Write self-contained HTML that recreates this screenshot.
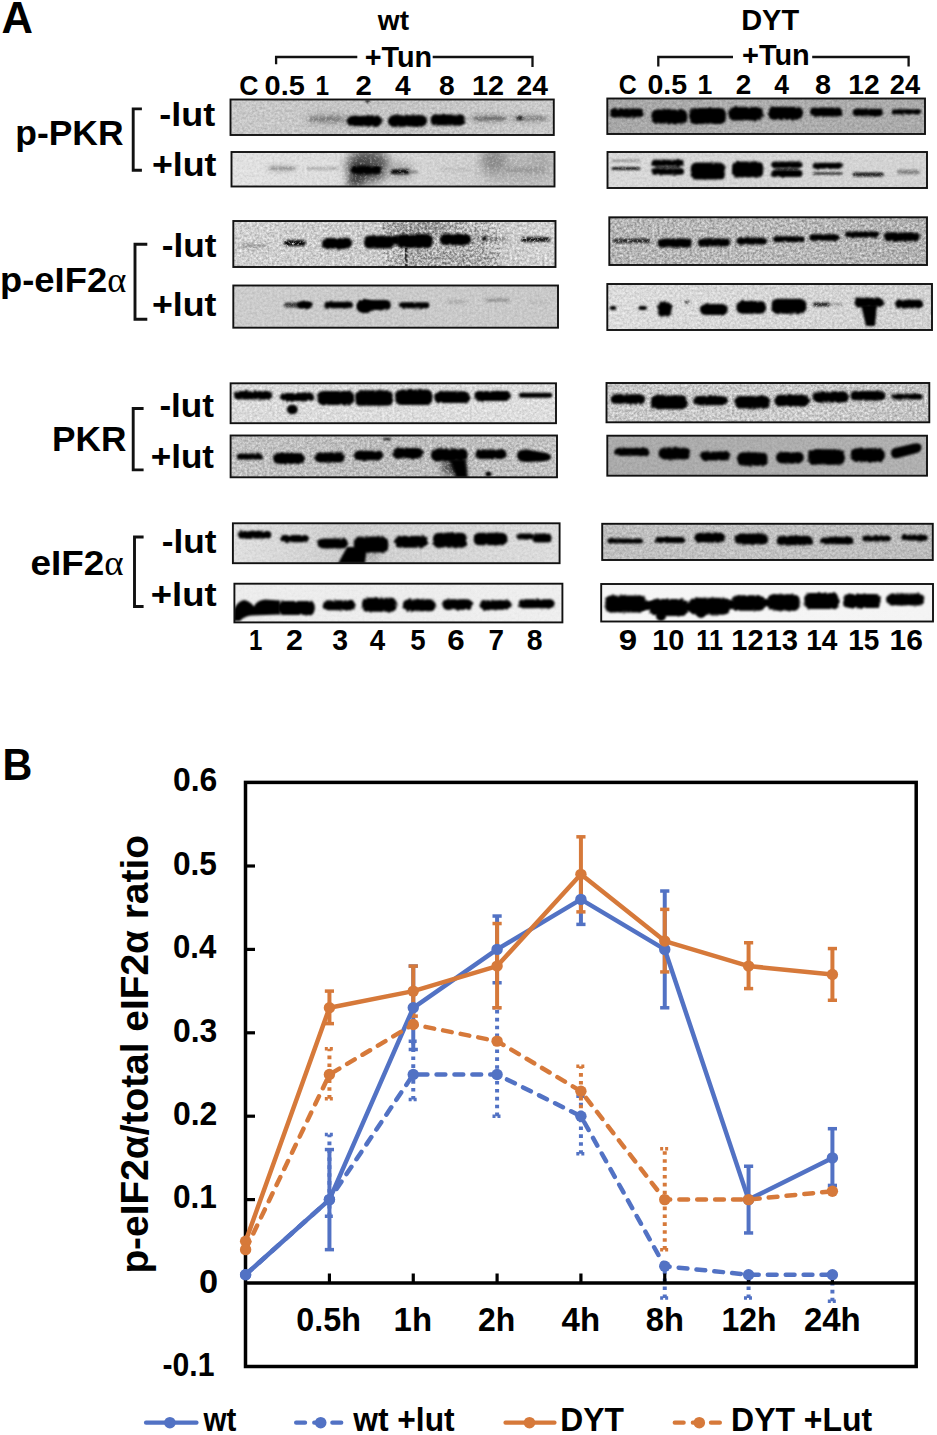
<!DOCTYPE html>
<html><head><meta charset="utf-8"><style>
html,body{margin:0;padding:0;background:#fff;}
body{width:937px;height:1435px;overflow:hidden;font-family:"Liberation Sans",sans-serif;}
svg{display:block;}
</style></head><body>
<svg width="937" height="1435" viewBox="0 0 937 1435">
<rect width="937" height="1435" fill="#fff"/>
<defs>
<filter id="b0_7" x="-50%" y="-100%" width="200%" height="300%"><feGaussianBlur stdDeviation="0.7"/></filter>
<filter id="rb0_7" x="-50%" y="-100%" width="200%" height="300%"><feTurbulence type="fractalNoise" baseFrequency="0.35" numOctaves="2" seed="7" result="n"/><feDisplacementMap in="SourceGraphic" in2="n" scale="3.2" xChannelSelector="R" yChannelSelector="G" result="d"/><feGaussianBlur in="d" stdDeviation="0.7"/></filter>
<filter id="b0_8" x="-50%" y="-100%" width="200%" height="300%"><feGaussianBlur stdDeviation="0.8"/></filter>
<filter id="rb0_8" x="-50%" y="-100%" width="200%" height="300%"><feTurbulence type="fractalNoise" baseFrequency="0.35" numOctaves="2" seed="7" result="n"/><feDisplacementMap in="SourceGraphic" in2="n" scale="3.2" xChannelSelector="R" yChannelSelector="G" result="d"/><feGaussianBlur in="d" stdDeviation="0.8"/></filter>
<filter id="b1" x="-50%" y="-100%" width="200%" height="300%"><feGaussianBlur stdDeviation="1"/></filter>
<filter id="rb1" x="-50%" y="-100%" width="200%" height="300%"><feTurbulence type="fractalNoise" baseFrequency="0.35" numOctaves="2" seed="7" result="n"/><feDisplacementMap in="SourceGraphic" in2="n" scale="3.2" xChannelSelector="R" yChannelSelector="G" result="d"/><feGaussianBlur in="d" stdDeviation="1"/></filter>
<filter id="b1_1" x="-50%" y="-100%" width="200%" height="300%"><feGaussianBlur stdDeviation="1.1"/></filter>
<filter id="rb1_1" x="-50%" y="-100%" width="200%" height="300%"><feTurbulence type="fractalNoise" baseFrequency="0.35" numOctaves="2" seed="7" result="n"/><feDisplacementMap in="SourceGraphic" in2="n" scale="3.2" xChannelSelector="R" yChannelSelector="G" result="d"/><feGaussianBlur in="d" stdDeviation="1.1"/></filter>
<filter id="b1_2" x="-50%" y="-100%" width="200%" height="300%"><feGaussianBlur stdDeviation="1.2"/></filter>
<filter id="rb1_2" x="-50%" y="-100%" width="200%" height="300%"><feTurbulence type="fractalNoise" baseFrequency="0.35" numOctaves="2" seed="7" result="n"/><feDisplacementMap in="SourceGraphic" in2="n" scale="3.2" xChannelSelector="R" yChannelSelector="G" result="d"/><feGaussianBlur in="d" stdDeviation="1.2"/></filter>
<filter id="b1_3" x="-50%" y="-100%" width="200%" height="300%"><feGaussianBlur stdDeviation="1.3"/></filter>
<filter id="rb1_3" x="-50%" y="-100%" width="200%" height="300%"><feTurbulence type="fractalNoise" baseFrequency="0.35" numOctaves="2" seed="7" result="n"/><feDisplacementMap in="SourceGraphic" in2="n" scale="3.2" xChannelSelector="R" yChannelSelector="G" result="d"/><feGaussianBlur in="d" stdDeviation="1.3"/></filter>
<filter id="b1_4" x="-50%" y="-100%" width="200%" height="300%"><feGaussianBlur stdDeviation="1.4"/></filter>
<filter id="rb1_4" x="-50%" y="-100%" width="200%" height="300%"><feTurbulence type="fractalNoise" baseFrequency="0.35" numOctaves="2" seed="7" result="n"/><feDisplacementMap in="SourceGraphic" in2="n" scale="3.2" xChannelSelector="R" yChannelSelector="G" result="d"/><feGaussianBlur in="d" stdDeviation="1.4"/></filter>
<filter id="b1_5" x="-50%" y="-100%" width="200%" height="300%"><feGaussianBlur stdDeviation="1.5"/></filter>
<filter id="rb1_5" x="-50%" y="-100%" width="200%" height="300%"><feTurbulence type="fractalNoise" baseFrequency="0.35" numOctaves="2" seed="7" result="n"/><feDisplacementMap in="SourceGraphic" in2="n" scale="3.2" xChannelSelector="R" yChannelSelector="G" result="d"/><feGaussianBlur in="d" stdDeviation="1.5"/></filter>
<filter id="b1_8" x="-50%" y="-100%" width="200%" height="300%"><feGaussianBlur stdDeviation="1.8"/></filter>
<filter id="rb1_8" x="-50%" y="-100%" width="200%" height="300%"><feTurbulence type="fractalNoise" baseFrequency="0.35" numOctaves="2" seed="7" result="n"/><feDisplacementMap in="SourceGraphic" in2="n" scale="3.2" xChannelSelector="R" yChannelSelector="G" result="d"/><feGaussianBlur in="d" stdDeviation="1.8"/></filter>
<filter id="b2" x="-50%" y="-100%" width="200%" height="300%"><feGaussianBlur stdDeviation="2"/></filter>
<filter id="rb2" x="-50%" y="-100%" width="200%" height="300%"><feTurbulence type="fractalNoise" baseFrequency="0.35" numOctaves="2" seed="7" result="n"/><feDisplacementMap in="SourceGraphic" in2="n" scale="3.2" xChannelSelector="R" yChannelSelector="G" result="d"/><feGaussianBlur in="d" stdDeviation="2"/></filter>
<filter id="b2_5" x="-50%" y="-100%" width="200%" height="300%"><feGaussianBlur stdDeviation="2.5"/></filter>
<filter id="rb2_5" x="-50%" y="-100%" width="200%" height="300%"><feTurbulence type="fractalNoise" baseFrequency="0.35" numOctaves="2" seed="7" result="n"/><feDisplacementMap in="SourceGraphic" in2="n" scale="3.2" xChannelSelector="R" yChannelSelector="G" result="d"/><feGaussianBlur in="d" stdDeviation="2.5"/></filter>
<filter id="b3" x="-50%" y="-100%" width="200%" height="300%"><feGaussianBlur stdDeviation="3"/></filter>
<filter id="rb3" x="-50%" y="-100%" width="200%" height="300%"><feTurbulence type="fractalNoise" baseFrequency="0.35" numOctaves="2" seed="7" result="n"/><feDisplacementMap in="SourceGraphic" in2="n" scale="3.2" xChannelSelector="R" yChannelSelector="G" result="d"/><feGaussianBlur in="d" stdDeviation="3"/></filter>
<filter id="b4" x="-50%" y="-100%" width="200%" height="300%"><feGaussianBlur stdDeviation="4"/></filter>
<filter id="rb4" x="-50%" y="-100%" width="200%" height="300%"><feTurbulence type="fractalNoise" baseFrequency="0.35" numOctaves="2" seed="7" result="n"/><feDisplacementMap in="SourceGraphic" in2="n" scale="3.2" xChannelSelector="R" yChannelSelector="G" result="d"/><feGaussianBlur in="d" stdDeviation="4"/></filter>
<filter id="b5" x="-50%" y="-100%" width="200%" height="300%"><feGaussianBlur stdDeviation="5"/></filter>
<filter id="rb5" x="-50%" y="-100%" width="200%" height="300%"><feTurbulence type="fractalNoise" baseFrequency="0.35" numOctaves="2" seed="7" result="n"/><feDisplacementMap in="SourceGraphic" in2="n" scale="3.2" xChannelSelector="R" yChannelSelector="G" result="d"/><feGaussianBlur in="d" stdDeviation="5"/></filter>
<filter id="b6" x="-50%" y="-100%" width="200%" height="300%"><feGaussianBlur stdDeviation="6"/></filter>
<filter id="rb6" x="-50%" y="-100%" width="200%" height="300%"><feTurbulence type="fractalNoise" baseFrequency="0.35" numOctaves="2" seed="7" result="n"/><feDisplacementMap in="SourceGraphic" in2="n" scale="3.2" xChannelSelector="R" yChannelSelector="G" result="d"/><feGaussianBlur in="d" stdDeviation="6"/></filter>
<filter id="nzd" x="0" y="0" width="1" height="1"><feTurbulence type="fractalNoise" baseFrequency="0.4" numOctaves="3" seed="11"/><feColorMatrix type="matrix" values="0 0 0 0 0  0 0 0 0 0  0 0 0 0 0  -2.5 0 0 0 1.25"/><feGaussianBlur stdDeviation="0.6"/></filter>
<filter id="nzl" x="0" y="0" width="1" height="1"><feTurbulence type="fractalNoise" baseFrequency="0.4" numOctaves="3" seed="11"/><feColorMatrix type="matrix" values="0 0 0 0 1  0 0 0 0 1  0 0 0 0 1  2.5 0 0 0 -1.25"/><feGaussianBlur stdDeviation="0.6"/></filter>
<clipPath id="c0"><rect x="230.5" y="99.5" width="323.3" height="35.5"/></clipPath>
<linearGradient id="g0" x1="0" y1="0" x2="1" y2="0"><stop offset="0" stop-color="#c9c9c9"/><stop offset="0.5" stop-color="#c4c4c4"/><stop offset="1" stop-color="#cacaca"/></linearGradient>
<clipPath id="c1"><rect x="231.5" y="152" width="323" height="34.5"/></clipPath>
<linearGradient id="g1" x1="0" y1="0" x2="1" y2="0"><stop offset="0" stop-color="#e2e2e2"/><stop offset="0.35" stop-color="#dcdcdc"/><stop offset="0.7" stop-color="#cfcfcf"/><stop offset="1" stop-color="#c4c4c4"/></linearGradient>
<clipPath id="c2"><rect x="607.3" y="98.5" width="317.7" height="35.5"/></clipPath>
<linearGradient id="g2" x1="0" y1="0" x2="1" y2="0"><stop offset="0" stop-color="#a6a6a6"/><stop offset="0.4" stop-color="#aeaeae"/><stop offset="1" stop-color="#aaaaaa"/></linearGradient>
<clipPath id="c3"><rect x="607.5" y="152" width="319.5" height="36"/></clipPath>
<linearGradient id="g3" x1="0" y1="0" x2="1" y2="0"><stop offset="0" stop-color="#d8d8d8"/><stop offset="1" stop-color="#d2d2d2"/></linearGradient>
<clipPath id="c4"><rect x="233.3" y="221" width="322.2" height="46"/></clipPath>
<linearGradient id="g4" x1="0" y1="0" x2="1" y2="0"><stop offset="0" stop-color="#d2d2d2"/><stop offset="0.4" stop-color="#cacaca"/><stop offset="0.75" stop-color="#c4c4c4"/><stop offset="1" stop-color="#d4d4d4"/></linearGradient>
<clipPath id="c5"><rect x="233.3" y="285.5" width="324.7" height="42.2"/></clipPath>
<linearGradient id="g5" x1="0" y1="0" x2="1" y2="0"><stop offset="0" stop-color="#cccccc"/><stop offset="1" stop-color="#c8c8c8"/></linearGradient>
<clipPath id="c6"><rect x="609.3" y="217.3" width="317.7" height="47.7"/></clipPath>
<linearGradient id="g6" x1="0" y1="0" x2="1" y2="0"><stop offset="0" stop-color="#b6b6b6"/><stop offset="0.5" stop-color="#bababa"/><stop offset="1" stop-color="#b0b0b0"/></linearGradient>
<clipPath id="c7"><rect x="607.3" y="284" width="324.7" height="46"/></clipPath>
<linearGradient id="g7" x1="0" y1="0" x2="1" y2="0"><stop offset="0" stop-color="#dcdcdc"/><stop offset="1" stop-color="#d0d0d0"/></linearGradient>
<clipPath id="c8"><rect x="230.6" y="383.3" width="325.4" height="39.9"/></clipPath>
<linearGradient id="g8" x1="0" y1="0" x2="1" y2="0"><stop offset="0" stop-color="#dadada"/><stop offset="1" stop-color="#dedede"/></linearGradient>
<clipPath id="c9"><rect x="230.6" y="435.5" width="326.4" height="41.8"/></clipPath>
<linearGradient id="g9" x1="0" y1="0" x2="1" y2="0"><stop offset="0" stop-color="#c2c2c2"/><stop offset="0.5" stop-color="#bcbcbc"/><stop offset="1" stop-color="#c2c2c2"/></linearGradient>
<clipPath id="c10"><rect x="606.5" y="383" width="322.8" height="39.3"/></clipPath>
<linearGradient id="g10" x1="0" y1="0" x2="1" y2="0"><stop offset="0" stop-color="#c8c8c8"/><stop offset="0.6" stop-color="#cccccc"/><stop offset="1" stop-color="#c2c2c2"/></linearGradient>
<clipPath id="c11"><rect x="607.3" y="435.7" width="319.7" height="40"/></clipPath>
<linearGradient id="g11" x1="0" y1="0" x2="1" y2="0"><stop offset="0" stop-color="#aaaaaa"/><stop offset="1" stop-color="#b0b0b0"/></linearGradient>
<clipPath id="c12"><rect x="232.9" y="523.3" width="326.7" height="39.9"/></clipPath>
<linearGradient id="g12" x1="0" y1="0" x2="1" y2="0"><stop offset="0" stop-color="#e0e0e0"/><stop offset="0.35" stop-color="#cccccc"/><stop offset="0.6" stop-color="#d4d4d4"/><stop offset="1" stop-color="#dcdcdc"/></linearGradient>
<clipPath id="c13"><rect x="234.4" y="583.7" width="328" height="38.7"/></clipPath>
<linearGradient id="g13" x1="0" y1="0" x2="1" y2="0"><stop offset="0" stop-color="#ececec"/><stop offset="1" stop-color="#eeeeee"/></linearGradient>
<clipPath id="c14"><rect x="602.2" y="523.8" width="330.6" height="36.2"/></clipPath>
<linearGradient id="g14" x1="0" y1="0" x2="1" y2="0"><stop offset="0" stop-color="#bebebe"/><stop offset="0.5" stop-color="#c2c2c2"/><stop offset="1" stop-color="#bababa"/></linearGradient>
<clipPath id="c15"><rect x="601.2" y="584" width="331.8" height="37.5"/></clipPath>
<linearGradient id="g15" x1="0" y1="0" x2="1" y2="0"><stop offset="0" stop-color="#f6f6f6"/><stop offset="1" stop-color="#f4f4f4"/></linearGradient>
</defs>
<rect x="230.5" y="99.5" width="323.3" height="35.5" fill="url(#g0)"/>
<g clip-path="url(#c0)">
<ellipse cx="330" cy="119" rx="24" ry="5" fill="#9a9a9a" filter="url(#b3)"/>
<rect x="309.5" y="117.25" width="31.5" height="3.5" rx="1.75" fill="#7a7a7a" filter="url(#b1_4)"/>
<ellipse cx="490" cy="118.5" rx="20" ry="4" fill="#999" filter="url(#b2_5)"/>
<rect x="474" y="116.75" width="31" height="3.5" rx="1.75" fill="#707070" filter="url(#b1_3)"/>
<ellipse cx="530" cy="118.5" rx="20" ry="4" fill="#a0a0a0" filter="url(#b2_5)"/>
<rect x="514.5" y="117" width="30.5" height="3" rx="1.5" fill="#808080" filter="url(#b1_3)"/>
<rect x="517" y="116" width="6" height="4" rx="2" fill="#202020" filter="url(#b1)"/>
<rect x="365.5" y="100" width="4" height="3" rx="1.5" fill="#111" filter="url(#b0_8)"/>
<rect x="230.5" y="99.5" width="323.3" height="35.5" filter="url(#nzd)" opacity="0.121"/>
<rect x="230.5" y="99.5" width="323.3" height="35.5" filter="url(#nzl)" opacity="0.437"/>
<rect x="347" y="115.75" width="35.5" height="10.5" rx="5.25" fill="#000" filter="url(#rb1)"/>
<rect x="388" y="115.25" width="39" height="11.5" rx="5.5" fill="#000" filter="url(#rb1)"/>
<rect x="430.5" y="114.5" width="35" height="11" rx="5.5" fill="#000" filter="url(#rb1)"/>
</g>
<rect x="230.5" y="99.5" width="323.3" height="35.5" fill="none" stroke="#111" stroke-width="1.9"/>
<rect x="231.5" y="152" width="323" height="34.5" fill="url(#g1)"/>
<g clip-path="url(#c1)">
<ellipse cx="518" cy="169" rx="40" ry="18" fill="#b4b4b4" filter="url(#b6)"/>
<ellipse cx="494" cy="160" rx="12" ry="12" fill="#8a8a8a" filter="url(#b5)"/>
<ellipse cx="540" cy="160" rx="10" ry="8" fill="#a8a8a8" filter="url(#b4)"/>
<ellipse cx="368" cy="166" rx="22" ry="17" fill="#5a5a5a" filter="url(#b5)"/>
<path d="M346 186 L356 160 L372 160 L362 186 Z" fill="#444" filter="url(#b3)"/>
<ellipse cx="400" cy="171" rx="14" ry="9" fill="#a8a8a8" filter="url(#b4)"/>
<ellipse cx="282" cy="168.5" rx="16" ry="4" fill="#c0c0c0" filter="url(#b2)"/>
<rect x="269.4" y="167" width="25.4" height="3" rx="1.5" fill="#9a9a9a" filter="url(#b1_2)"/>
<rect x="306.6" y="167.25" width="31.8" height="2.5" rx="1.25" fill="#aaaaaa" filter="url(#b1_2)"/>
<rect x="390.6" y="169.3" width="19.2" height="5" rx="2.5" fill="#111" filter="url(#b1_1)"/>
<rect x="409" y="171" width="9" height="2" rx="1" fill="#777" filter="url(#b1)"/>
<rect x="440" y="168.5" width="30" height="3" rx="1.5" fill="#bdbdbd" filter="url(#b1_5)"/>
<rect x="505" y="168" width="40" height="4" rx="2" fill="#909090" filter="url(#b2)"/>
<rect x="231.5" y="152" width="323" height="34.5" filter="url(#nzd)" opacity="0.080"/>
<rect x="231.5" y="152" width="323" height="34.5" filter="url(#nzl)" opacity="0.398"/>
<rect x="351" y="165.75" width="30" height="8.5" rx="4.25" fill="#000" filter="url(#rb1_3)"/>
</g>
<rect x="231.5" y="152" width="323" height="34.5" fill="none" stroke="#111" stroke-width="1.9"/>
<rect x="607.3" y="98.5" width="317.7" height="35.5" fill="url(#g2)"/>
<g clip-path="url(#c2)">
<rect x="607.3" y="98.5" width="317.7" height="35.5" filter="url(#nzd)" opacity="0.133"/>
<rect x="607.3" y="98.5" width="317.7" height="35.5" filter="url(#nzl)" opacity="0.266"/>
<rect x="609.6" y="108.5" width="33.6" height="9" rx="4.5" fill="#000" filter="url(#rb1)"/>
<rect x="651.5" y="109.5" width="35.9" height="14" rx="5.5" fill="#000" filter="url(#rb1)"/>
<rect x="689.3" y="108" width="36.5" height="16" rx="5.5" fill="#000" filter="url(#rb1)"/>
<rect x="728.3" y="107.05" width="34.6" height="13.5" rx="5.5" fill="#000" filter="url(#rb1)"/>
<rect x="768" y="106.7" width="35" height="13" rx="5.5" fill="#000" filter="url(#rb1)"/>
<rect x="810" y="107.4" width="32.5" height="9" rx="4.5" fill="#000" filter="url(#rb1)"/>
<rect x="852.6" y="108.85" width="30.2" height="7.5" rx="3.75" fill="#000" filter="url(#rb1)"/>
<rect x="891.8" y="109.3" width="28.8" height="5" rx="2.5" fill="#000" filter="url(#rb1)"/>
</g>
<rect x="607.3" y="98.5" width="317.7" height="35.5" fill="none" stroke="#111" stroke-width="1.9"/>
<rect x="607.5" y="152" width="319.5" height="36" fill="url(#g3)"/>
<g clip-path="url(#c3)">
<rect x="611.5" y="159.7" width="28.8" height="2" rx="1" fill="#888" filter="url(#b1)"/>
<rect x="611.5" y="166.9" width="28.8" height="3" rx="1.5" fill="#1a1a1a" filter="url(#b0_8)"/>
<rect x="655" y="165.8" width="25" height="3" rx="1.5" fill="#444" filter="url(#b1)"/>
<rect x="775" y="167.7" width="24" height="3" rx="1.5" fill="#333" filter="url(#b1)"/>
<rect x="812.5" y="172" width="30.2" height="3" rx="1.5" fill="#444" filter="url(#b1)"/>
<rect x="852.6" y="172.5" width="31.1" height="4" rx="2" fill="#1a1a1a" filter="url(#b1)"/>
<rect x="897" y="170" width="22.6" height="4" rx="2" fill="#777" filter="url(#b1_5)"/>
<rect x="607.5" y="152" width="319.5" height="36" filter="url(#nzd)" opacity="0.066"/>
<rect x="607.5" y="152" width="319.5" height="36" filter="url(#nzl)" opacity="0.333"/>
<rect x="651.5" y="159.75" width="32.5" height="6.5" rx="3.25" fill="#000" filter="url(#rb1)"/>
<rect x="651.5" y="168.35" width="32.5" height="6.5" rx="3.25" fill="#000" filter="url(#rb1)"/>
<rect x="690.7" y="162.5" width="34.2" height="17" rx="5.5" fill="#000" filter="url(#rb1)"/>
<rect x="732" y="161.5" width="31.3" height="16" rx="5.5" fill="#000" filter="url(#rb1)"/>
<rect x="771.3" y="161.55" width="31.2" height="6.5" rx="3.25" fill="#000" filter="url(#rb1)"/>
<rect x="771.3" y="170.1" width="31.2" height="7" rx="3.5" fill="#000" filter="url(#rb1)"/>
<rect x="812.5" y="162.8" width="30.2" height="6" rx="3" fill="#000" filter="url(#rb1)"/>
</g>
<rect x="607.5" y="152" width="319.5" height="36" fill="none" stroke="#111" stroke-width="1.9"/>
<rect x="233.3" y="221" width="322.2" height="46" fill="url(#g4)"/>
<g clip-path="url(#c4)">
<ellipse cx="420" cy="228" rx="38" ry="9" fill="#989898" filter="url(#b4)"/>
<ellipse cx="445" cy="258" rx="55" ry="10" fill="#a8a8a8" filter="url(#b5)"/>
<ellipse cx="470" cy="240" rx="18" ry="12" fill="#b0b0b0" filter="url(#b5)"/>
<path d="M405 248 L407.5 248 L407.5 266 L405 266 Z" fill="#3a3a3a" filter="url(#b0_7)"/>
<ellipse cx="253" cy="246" rx="15" ry="3" fill="#a8a8a8" filter="url(#b1_8)"/>
<rect x="284" y="240" width="21.7" height="6" rx="3" fill="#101010" filter="url(#b1)"/>
<rect x="481.4" y="237" width="26.3" height="4" rx="2" fill="#8c8c8c" filter="url(#b1_5)"/>
<rect x="521" y="236.9" width="29.3" height="5" rx="2.5" fill="#1c1c1c" filter="url(#b1)"/>
<rect x="233.3" y="221" width="322.2" height="46" filter="url(#nzd)" opacity="0.219"/>
<rect x="233.3" y="221" width="322.2" height="46" filter="url(#nzl)" opacity="0.897"/>
<rect x="383" y="221" width="117" height="46" filter="url(#nzd)" opacity="0.300"/>
<rect x="383" y="221" width="117" height="46" filter="url(#nzl)" opacity="0.180"/>
<rect x="322" y="238" width="30" height="11" rx="5.5" fill="#000" filter="url(#rb1)"/>
<rect x="363.8" y="235.5" width="30.2" height="13" rx="5.5" fill="#000" filter="url(#rb1)"/>
<rect x="390" y="235.5" width="10" height="9" rx="4.5" fill="#000" filter="url(#rb1)"/>
<rect x="397" y="234" width="35.7" height="14" rx="5.5" fill="#000" filter="url(#rb1)"/>
<rect x="439.8" y="234" width="31.4" height="11" rx="5.5" fill="#000" filter="url(#rb1)"/>
<rect x="482" y="236.5" width="5" height="4" rx="2" fill="#000" filter="url(#b1)"/>
</g>
<rect x="233.3" y="221" width="322.2" height="46" fill="none" stroke="#111" stroke-width="1.9"/>
<rect x="233.3" y="285.5" width="324.7" height="42.2" fill="url(#g5)"/>
<g clip-path="url(#c5)">
<rect x="284" y="302.5" width="28" height="5" rx="2.5" fill="#3a3a3a" filter="url(#b1_2)"/>
<rect x="447" y="300.5" width="20" height="3" rx="1.5" fill="#a8a8a8" filter="url(#b1_5)"/>
<rect x="485.4" y="298.5" width="24.4" height="3" rx="1.5" fill="#8c8c8c" filter="url(#b1_5)"/>
<rect x="530" y="300.5" width="18" height="3" rx="1.5" fill="#bcbcbc" filter="url(#b1_5)"/>
<rect x="233.3" y="285.5" width="324.7" height="42.2" filter="url(#nzd)" opacity="0.083"/>
<rect x="233.3" y="285.5" width="324.7" height="42.2" filter="url(#nzl)" opacity="0.316"/>
<rect x="297" y="301.75" width="15" height="6.5" rx="3.25" fill="#000" filter="url(#rb1)"/>
<rect x="323.9" y="301.75" width="29" height="6.5" rx="3.25" fill="#000" filter="url(#rb1)"/>
<rect x="357.4" y="300" width="33.6" height="10" rx="5" fill="#000" filter="url(#rb1)"/>
<rect x="357" y="300" width="15" height="13" rx="5.5" fill="#000" filter="url(#rb1)"/>
<rect x="399.3" y="302.3" width="30.4" height="6" rx="3" fill="#000" filter="url(#rb1)"/>
</g>
<rect x="233.3" y="285.5" width="324.7" height="42.2" fill="none" stroke="#111" stroke-width="1.9"/>
<rect x="609.3" y="217.3" width="317.7" height="47.7" fill="url(#g6)"/>
<g clip-path="url(#c6)">
<rect x="613.4" y="238.7" width="37.6" height="4" rx="2" fill="#202020" filter="url(#b1)"/>
<rect x="609.3" y="217.3" width="317.7" height="47.7" filter="url(#nzd)" opacity="0.299"/>
<rect x="609.3" y="217.3" width="317.7" height="47.7" filter="url(#nzl)" opacity="0.737"/>
<rect x="657.6" y="238.5" width="34.6" height="9" rx="4.5" fill="#000" filter="url(#rb1)"/>
<rect x="698" y="238.6" width="31.7" height="8" rx="4" fill="#000" filter="url(#rb1)"/>
<rect x="736.4" y="237.5" width="30.6" height="7" rx="3.5" fill="#000" filter="url(#rb1)"/>
<rect x="773.2" y="236.3" width="31.2" height="6" rx="3" fill="#000" filter="url(#rb1)"/>
<rect x="809.5" y="234.15" width="29.8" height="6.5" rx="3.25" fill="#000" filter="url(#rb1)"/>
<rect x="845" y="231.6" width="34" height="6" rx="3" fill="#000" filter="url(#rb1)"/>
<rect x="883.7" y="232.3" width="35.9" height="9" rx="4.5" fill="#000" filter="url(#rb1)"/>
</g>
<rect x="609.3" y="217.3" width="317.7" height="47.7" fill="none" stroke="#111" stroke-width="1.9"/>
<rect x="607.3" y="284" width="324.7" height="46" fill="url(#g7)"/>
<g clip-path="url(#c7)">
<rect x="684.5" y="300.5" width="4.8" height="3" rx="1.5" fill="#404040" filter="url(#b1)"/>
<rect x="812.9" y="302.4" width="17.1" height="4" rx="2" fill="#202020" filter="url(#b1)"/>
<rect x="830" y="303.15" width="13" height="2.5" rx="1.25" fill="#999" filter="url(#b1)"/>
<rect x="607.3" y="284" width="324.7" height="46" filter="url(#nzd)" opacity="0.128"/>
<rect x="607.3" y="284" width="324.7" height="46" filter="url(#nzl)" opacity="0.669"/>
<rect x="609.6" y="306" width="6.7" height="4" rx="2" fill="#000" filter="url(#b1)"/>
<rect x="638.4" y="306" width="8.6" height="4" rx="2" fill="#000" filter="url(#b1)"/>
<rect x="657.6" y="302" width="14.4" height="14.6" rx="5.5" fill="#000" filter="url(#rb1)"/>
<rect x="700" y="304" width="27.7" height="11" rx="5.5" fill="#000" filter="url(#rb1)"/>
<rect x="736.4" y="300.95" width="29.6" height="12.7" rx="5.5" fill="#000" filter="url(#rb1)"/>
<rect x="771.7" y="298.8" width="34.6" height="15" rx="5.5" fill="#000" filter="url(#rb1)"/>
<rect x="854.4" y="297.75" width="29.3" height="9.5" rx="4.75" fill="#000" filter="url(#rb1)"/>
<path d="M861 305 L877 305 L875 326 L866 326 Z" fill="#000" filter="url(#b1_3)"/>
<rect x="895" y="299.75" width="28.4" height="8.5" rx="4.25" fill="#000" filter="url(#rb1)"/>
</g>
<rect x="607.3" y="284" width="324.7" height="46" fill="none" stroke="#111" stroke-width="1.9"/>
<rect x="230.6" y="383.3" width="325.4" height="39.9" fill="url(#g8)"/>
<g clip-path="url(#c8)">
<rect x="230.6" y="383.3" width="325.4" height="39.9" filter="url(#nzd)" opacity="0.120"/>
<rect x="230.6" y="383.3" width="325.4" height="39.9" filter="url(#nzl)" opacity="0.756"/>
<rect x="234" y="390.95" width="38.5" height="8.5" rx="4.25" fill="#000" filter="url(#rb1)"/>
<rect x="280.3" y="393.1" width="34" height="7.8" rx="3.9" fill="#000" filter="url(#rb1)"/>
<ellipse cx="292.3" cy="409.5" rx="5.5" ry="4.8" fill="#000" filter="url(#b0_8)"/>
<rect x="317.5" y="391" width="36.7" height="14" rx="5.5" fill="#000" filter="url(#rb1)"/>
<rect x="355.3" y="390.3" width="37.7" height="15.4" rx="5.5" fill="#000" filter="url(#rb1)"/>
<rect x="395.2" y="389.6" width="37.1" height="15.4" rx="5.5" fill="#000" filter="url(#rb1)"/>
<rect x="434.3" y="391.2" width="35.5" height="11.8" rx="5.5" fill="#000" filter="url(#rb1)"/>
<rect x="474.3" y="391" width="36.5" height="10" rx="5" fill="#000" filter="url(#rb1)"/>
<rect x="518.9" y="392.75" width="33.4" height="4.9" rx="2.45" fill="#000" filter="url(#b1)"/>
</g>
<rect x="230.6" y="383.3" width="325.4" height="39.9" fill="none" stroke="#111" stroke-width="1.9"/>
<rect x="230.6" y="435.5" width="326.4" height="41.8" fill="url(#g9)"/>
<g clip-path="url(#c9)">
<ellipse cx="452" cy="467" rx="11" ry="9" fill="#5a5a5a" filter="url(#b3)"/>
<rect x="230.6" y="435.5" width="326.4" height="41.8" filter="url(#nzd)" opacity="0.197"/>
<rect x="230.6" y="435.5" width="326.4" height="41.8" filter="url(#nzl)" opacity="0.600"/>
<rect x="236.8" y="453.4" width="26.2" height="6" rx="3" fill="#000" filter="url(#rb1)"/>
<rect x="273" y="453" width="31.8" height="11" rx="5.5" fill="#000" filter="url(#rb1)"/>
<rect x="314.8" y="452.6" width="29.9" height="9.8" rx="4.9" fill="#000" filter="url(#rb1)"/>
<rect x="354.2" y="450.75" width="29" height="9.5" rx="4.75" fill="#000" filter="url(#rb1)"/>
<rect x="383" y="438" width="8" height="2" rx="1" fill="#000" filter="url(#b0_8)"/>
<rect x="392.6" y="447.95" width="30.6" height="10.5" rx="5.25" fill="#000" filter="url(#rb1)"/>
<rect x="431" y="448.4" width="36.6" height="12.8" rx="5.5" fill="#000" filter="url(#rb1)"/>
<path d="M449 459 L466 459 L468 478 L456 478 Z" fill="#000" filter="url(#b1_5)"/>
<rect x="475.3" y="449.6" width="31.4" height="9.4" rx="4.7" fill="#000" filter="url(#rb1)"/>
<ellipse cx="488.5" cy="474" rx="3.2" ry="2.5" fill="#000" filter="url(#b0_8)"/>
<path d="M517 455.5 Q517 449 527 449.5 L541 452 Q551 453 551 457 Q551 461 541 461.5 L527 462 Q517 462.5 517 455.5 Z" fill="#000" filter="url(#b1)"/>
</g>
<rect x="230.6" y="435.5" width="326.4" height="41.8" fill="none" stroke="#111" stroke-width="1.9"/>
<rect x="606.5" y="383" width="322.8" height="39.3" fill="url(#g10)"/>
<g clip-path="url(#c10)">
<rect x="606.5" y="383" width="322.8" height="39.3" filter="url(#nzd)" opacity="0.226"/>
<rect x="606.5" y="383" width="322.8" height="39.3" filter="url(#nzl)" opacity="0.810"/>
<rect x="610.6" y="394.2" width="34.5" height="9.6" rx="4.8" fill="#000" filter="url(#rb1)"/>
<rect x="651" y="395.2" width="36.4" height="14" rx="5.5" fill="#000" filter="url(#rb1)"/>
<rect x="693.2" y="396.1" width="34.5" height="9.2" rx="4.6" fill="#000" filter="url(#rb1)"/>
<rect x="734.5" y="396.05" width="35.5" height="12.5" rx="5.5" fill="#000" filter="url(#rb1)"/>
<rect x="774.2" y="394.8" width="35.3" height="11.4" rx="5.5" fill="#000" filter="url(#rb1)"/>
<rect x="812.9" y="391.6" width="35.9" height="10.8" rx="5.4" fill="#000" filter="url(#rb1)"/>
<rect x="850.7" y="390.95" width="34.9" height="9.5" rx="4.75" fill="#000" filter="url(#rb1)"/>
<rect x="891.3" y="393.85" width="31.1" height="5.7" rx="2.85" fill="#000" filter="url(#rb1)"/>
</g>
<rect x="606.5" y="383" width="322.8" height="39.3" fill="none" stroke="#111" stroke-width="1.9"/>
<rect x="607.3" y="435.7" width="319.7" height="40" fill="url(#g11)"/>
<g clip-path="url(#c11)">
<rect x="607.3" y="435.7" width="319.7" height="40" filter="url(#nzd)" opacity="0.077"/>
<rect x="607.3" y="435.7" width="319.7" height="40" filter="url(#nzl)" opacity="0.162"/>
<rect x="615" y="447.95" width="34.6" height="7.7" rx="3.85" fill="#000" filter="url(#rb1)"/>
<rect x="658.6" y="447.55" width="31.7" height="11.9" rx="5.5" fill="#000" filter="url(#rb1)"/>
<rect x="700.3" y="451.5" width="30.3" height="9" rx="4.5" fill="#000" filter="url(#rb1)"/>
<rect x="737.3" y="452.25" width="30.2" height="13.5" rx="5.5" fill="#000" filter="url(#rb1)"/>
<rect x="776" y="452" width="27.8" height="11.4" rx="5.5" fill="#000" filter="url(#rb1)"/>
<rect x="808.2" y="449.25" width="36.4" height="15.5" rx="5.5" fill="#000" filter="url(#rb1)"/>
<rect x="850.7" y="448.3" width="34" height="13.6" rx="5.5" fill="#000" filter="url(#rb1)"/>
<path d="M891 453 Q891 448 897 447.5 L914 443.5 Q921 442 921.5 447 Q922 452 915 453.5 L898 458 Q891 459.5 891 453 Z" fill="#000" filter="url(#b1)"/>
</g>
<rect x="607.3" y="435.7" width="319.7" height="40" fill="none" stroke="#111" stroke-width="1.9"/>
<rect x="232.9" y="523.3" width="326.7" height="39.9" fill="url(#g12)"/>
<g clip-path="url(#c12)">
<ellipse cx="372" cy="556" rx="8" ry="7" fill="#b0b0b0" filter="url(#b3)"/>
<rect x="232.9" y="523.3" width="326.7" height="39.9" filter="url(#nzd)" opacity="0.062"/>
<rect x="232.9" y="523.3" width="326.7" height="39.9" filter="url(#nzl)" opacity="0.336"/>
<rect x="237.7" y="531" width="33.6" height="7.6" rx="3.8" fill="#000" filter="url(#rb1)"/>
<rect x="280.3" y="535" width="28.5" height="7.2" rx="3.6" fill="#000" filter="url(#rb1)"/>
<rect x="317.5" y="538.4" width="30.5" height="10" rx="5" fill="#000" filter="url(#rb1)"/>
<rect x="353.8" y="536.6" width="34.5" height="16" rx="5.5" fill="#000" filter="url(#rb1)"/>
<path d="M347 547 L367 547 L365 563.5 L338 563.5 Z" fill="#000" filter="url(#b1_2)"/>
<rect x="394.2" y="535.8" width="33.3" height="12" rx="5.5" fill="#000" filter="url(#rb1)"/>
<rect x="433" y="532.8" width="34" height="15" rx="5.5" fill="#000" filter="url(#rb1)"/>
<rect x="473.7" y="532.75" width="33.7" height="12.5" rx="5.5" fill="#000" filter="url(#rb1)"/>
<rect x="516.3" y="533.5" width="17.7" height="6" rx="3" fill="#000" filter="url(#rb1)"/>
<rect x="532" y="533.5" width="19.7" height="9" rx="4.5" fill="#000" filter="url(#rb1)"/>
</g>
<rect x="232.9" y="523.3" width="326.7" height="39.9" fill="none" stroke="#111" stroke-width="1.9"/>
<rect x="234.4" y="583.7" width="328" height="38.7" fill="url(#g13)"/>
<g clip-path="url(#c13)">
<rect x="234.4" y="583.7" width="328" height="38.7" filter="url(#nzd)" opacity="0.022"/>
<rect x="234.4" y="583.7" width="328" height="38.7" filter="url(#nzl)" opacity="0.296"/>
<path d="M233 621 L234 609 Q238 601 244 600 Q250 601 254 606.5 Q257 600 265 599.5 L280 600.5 L280 614.5 L252 615.5 Q244 616 240 621 Z" fill="#000" filter="url(#b1_1)"/>
<rect x="278" y="600.9" width="36.8" height="14.2" rx="5.5" fill="#000" filter="url(#rb1)"/>
<rect x="323" y="600.2" width="32.6" height="10" rx="5" fill="#000" filter="url(#rb1)"/>
<rect x="362" y="597.8" width="34.6" height="14" rx="5.5" fill="#000" filter="url(#rb1)"/>
<rect x="402.9" y="599.25" width="32.9" height="11.9" rx="5.5" fill="#000" filter="url(#rb1)"/>
<rect x="442.4" y="599.3" width="30.2" height="10.4" rx="5.2" fill="#000" filter="url(#rb1)"/>
<rect x="479.5" y="600.3" width="32" height="9.4" rx="4.7" fill="#000" filter="url(#rb1)"/>
<rect x="518.4" y="599.25" width="36" height="8.9" rx="4.45" fill="#000" filter="url(#rb1)"/>
</g>
<rect x="234.4" y="583.7" width="328" height="38.7" fill="none" stroke="#111" stroke-width="1.9"/>
<rect x="602.2" y="523.8" width="330.6" height="36.2" fill="url(#g14)"/>
<g clip-path="url(#c14)">
<rect x="602.2" y="523.8" width="330.6" height="36.2" filter="url(#nzd)" opacity="0.142"/>
<rect x="602.2" y="523.8" width="330.6" height="36.2" filter="url(#nzl)" opacity="0.416"/>
<rect x="607.2" y="538.5" width="35.5" height="5" rx="2.5" fill="#000" filter="url(#rb1)"/>
<rect x="654.9" y="537" width="30.4" height="6" rx="3" fill="#000" filter="url(#rb1)"/>
<rect x="694.4" y="532.8" width="30.4" height="9.6" rx="4.8" fill="#000" filter="url(#rb1)"/>
<rect x="734.4" y="533.6" width="34" height="10.8" rx="5.4" fill="#000" filter="url(#rb1)"/>
<rect x="776.6" y="535.8" width="36.3" height="9.4" rx="4.7" fill="#000" filter="url(#rb1)"/>
<rect x="820.8" y="536.7" width="32.7" height="7.6" rx="3.8" fill="#000" filter="url(#rb1)"/>
<rect x="862" y="535.8" width="28.7" height="5.6" rx="2.8" fill="#000" filter="url(#rb1)"/>
<rect x="901.3" y="534.75" width="26.4" height="5.7" rx="2.85" fill="#000" filter="url(#rb1)"/>
</g>
<rect x="602.2" y="523.8" width="330.6" height="36.2" fill="none" stroke="#111" stroke-width="1.9"/>
<rect x="601.2" y="584" width="331.8" height="37.5" fill="url(#g15)"/>
<g clip-path="url(#c15)">
<rect x="601.2" y="584" width="331.8" height="37.5" filter="url(#nzd)" opacity="0.008"/>
<rect x="601.2" y="584" width="331.8" height="37.5" filter="url(#nzl)" opacity="0.191"/>
<rect x="605.2" y="595.4" width="40.6" height="17" rx="5.5" fill="#000" filter="url(#rb1)"/>
<rect x="649.8" y="599" width="37.5" height="17" rx="5.5" fill="#000" filter="url(#rb1)"/>
<rect x="689.4" y="597.7" width="40.5" height="17" rx="5.5" fill="#000" filter="url(#rb1)"/>
<rect x="640" y="601" width="16" height="9" rx="4.5" fill="#000" filter="url(#rb1)"/>
<rect x="683" y="602.5" width="12" height="9" rx="4.5" fill="#000" filter="url(#rb1)"/>
<rect x="725" y="600" width="12" height="9" rx="4.5" fill="#000" filter="url(#rb1)"/>
<rect x="760" y="599" width="11" height="8" rx="4" fill="#000" filter="url(#rb1)"/>
<ellipse cx="661" cy="616" rx="5" ry="5" fill="#000" filter="url(#b1)"/>
<ellipse cx="701" cy="613" rx="5" ry="5" fill="#000" filter="url(#b1)"/>
<rect x="732" y="595.25" width="32.4" height="15.5" rx="5.5" fill="#000" filter="url(#rb1)"/>
<rect x="767.6" y="594.15" width="32.1" height="16.5" rx="5.5" fill="#000" filter="url(#rb1)"/>
<rect x="804.4" y="593" width="34.9" height="16" rx="5.5" fill="#000" filter="url(#rb1)"/>
<rect x="843.1" y="594" width="37.4" height="14" rx="5.5" fill="#000" filter="url(#rb1)"/>
<rect x="886.2" y="593.6" width="38.1" height="12" rx="5.5" fill="#000" filter="url(#rb1)"/>
</g>
<rect x="601.2" y="584" width="331.8" height="37.5" fill="none" stroke="#111" stroke-width="1.9"/>
<text transform="translate(1.49,32.7) scale(0.9905,1)" font-size="44" font-weight="bold" font-family='"Liberation Sans", sans-serif'><tspan>A</tspan></text>
<text transform="translate(377.8,29.8) scale(1.0404,1)" font-size="27" font-weight="bold" font-family='"Liberation Sans", sans-serif'><tspan>wt</tspan></text>
<text transform="translate(741.17,30) scale(0.9969,1)" font-size="29.1" font-weight="bold" font-family='"Liberation Sans", sans-serif'><tspan>DYT</tspan></text>
<text transform="translate(364.65,66.61) scale(0.9910,1)" font-size="29.1" font-weight="bold" font-family='"Liberation Sans", sans-serif'><tspan>+Tun</tspan></text>
<text transform="translate(742.04,65.31) scale(0.9941,1)" font-size="29.1" font-weight="bold" font-family='"Liberation Sans", sans-serif'><tspan>+Tun</tspan></text>
<path d="M276.1 64.3V57H357.3M432.7 57H532.5V66.9" fill="none" stroke="#111" stroke-width="2.3"/>
<path d="M658.3 66.5V57H733M812.2 57H908.6V66.5" fill="none" stroke="#111" stroke-width="2.3"/>
<text transform="translate(239.14,95) scale(0.9372,1)" font-size="28.4" font-weight="bold" font-family='"Liberation Sans", sans-serif'><tspan>C</tspan></text>
<text transform="translate(264.54,95) scale(1.0190,1)" font-size="28.4" font-weight="bold" font-family='"Liberation Sans", sans-serif'><tspan>0.5</tspan></text>
<text transform="translate(315.53,95) scale(0.8616,1)" font-size="28.4" font-weight="bold" font-family='"Liberation Sans", sans-serif'><tspan>1</tspan></text>
<text transform="translate(355.52,95) scale(1.0348,1)" font-size="28.4" font-weight="bold" font-family='"Liberation Sans", sans-serif'><tspan>2</tspan></text>
<text transform="translate(394.92,95) scale(0.9911,1)" font-size="28.4" font-weight="bold" font-family='"Liberation Sans", sans-serif'><tspan>4</tspan></text>
<text transform="translate(438.95,95) scale(0.9930,1)" font-size="28.4" font-weight="bold" font-family='"Liberation Sans", sans-serif'><tspan>8</tspan></text>
<text transform="translate(472.07,95) scale(1.0149,1)" font-size="28.4" font-weight="bold" font-family='"Liberation Sans", sans-serif'><tspan>12</tspan></text>
<text transform="translate(516.45,95) scale(0.9944,1)" font-size="28.4" font-weight="bold" font-family='"Liberation Sans", sans-serif'><tspan>24</tspan></text>
<text transform="translate(618.8,94.4) scale(0.8776,1)" font-size="28.4" font-weight="bold" font-family='"Liberation Sans", sans-serif'><tspan>C</tspan></text>
<text transform="translate(647.46,94.4) scale(1.0057,1)" font-size="28.4" font-weight="bold" font-family='"Liberation Sans", sans-serif'><tspan>0.5</tspan></text>
<text transform="translate(697.4,94.4) scale(0.9365,1)" font-size="28.4" font-weight="bold" font-family='"Liberation Sans", sans-serif'><tspan>1</tspan></text>
<text transform="translate(735.86,94.4) scale(0.9845,1)" font-size="28.4" font-weight="bold" font-family='"Liberation Sans", sans-serif'><tspan>2</tspan></text>
<text transform="translate(774.24,94.4) scale(0.9324,1)" font-size="28.4" font-weight="bold" font-family='"Liberation Sans", sans-serif'><tspan>4</tspan></text>
<text transform="translate(814.94,94.4) scale(1.0141,1)" font-size="28.4" font-weight="bold" font-family='"Liberation Sans", sans-serif'><tspan>8</tspan></text>
<text transform="translate(848.31,94.4) scale(0.9942,1)" font-size="28.4" font-weight="bold" font-family='"Liberation Sans", sans-serif'><tspan>12</tspan></text>
<text transform="translate(889.78,94.4) scale(0.9618,1)" font-size="28.4" font-weight="bold" font-family='"Liberation Sans", sans-serif'><tspan>24</tspan></text>
<text transform="translate(15.22,145.2) scale(0.9964,1)" font-size="35.6" font-weight="bold" font-family='"Liberation Sans", sans-serif'><tspan>p-PKR</tspan></text>
<text transform="translate(-0.05,292.2) scale(1.0227,1)" font-size="35.6" font-weight="bold" font-family='"Liberation Sans", sans-serif'><tspan>p-eIF2</tspan><tspan font-family='"Liberation Serif", serif' font-weight="normal">α</tspan></text>
<text transform="translate(52.03,451.2) scale(0.9901,1)" font-size="35.6" font-weight="bold" font-family='"Liberation Sans", sans-serif'><tspan>PKR</tspan></text>
<text transform="translate(30.42,575) scale(1.0368,1)" font-size="35.6" font-weight="bold" font-family='"Liberation Sans", sans-serif'><tspan>eIF2</tspan><tspan font-family='"Liberation Serif", serif' font-weight="normal">α</tspan></text>
<text transform="translate(159.36,125.6) scale(1.0976,1)" font-size="32.8" font-weight="bold" font-family='"Liberation Sans", sans-serif'><tspan>-lut</tspan></text>
<text transform="translate(151.97,175.9) scale(1.0906,1)" font-size="32.8" font-weight="bold" font-family='"Liberation Sans", sans-serif'><tspan>+lut</tspan></text>
<text transform="translate(161.79,256.6) scale(1.0732,1)" font-size="32.8" font-weight="bold" font-family='"Liberation Sans", sans-serif'><tspan>-lut</tspan></text>
<text transform="translate(151.97,315.5) scale(1.0906,1)" font-size="32.8" font-weight="bold" font-family='"Liberation Sans", sans-serif'><tspan>+lut</tspan></text>
<text transform="translate(159.39,416.6) scale(1.0711,1)" font-size="32.8" font-weight="bold" font-family='"Liberation Sans", sans-serif'><tspan>-lut</tspan></text>
<text transform="translate(150.8,468.2) scale(1.0679,1)" font-size="32.8" font-weight="bold" font-family='"Liberation Sans", sans-serif'><tspan>+lut</tspan></text>
<text transform="translate(161.79,553) scale(1.0732,1)" font-size="32.8" font-weight="bold" font-family='"Liberation Sans", sans-serif'><tspan>-lut</tspan></text>
<text transform="translate(150.74,605.7) scale(1.1115,1)" font-size="32.8" font-weight="bold" font-family='"Liberation Sans", sans-serif'><tspan>+lut</tspan></text>
<path d="M141.9 108.9H133.2V170.3H141.9" fill="none" stroke="#111" stroke-width="2.9"/>
<path d="M147.3 244.3H135V319.3H147.3" fill="none" stroke="#111" stroke-width="2.9"/>
<path d="M143.6 408.5H133.2V469.9H143.6" fill="none" stroke="#111" stroke-width="2.9"/>
<path d="M143.6 537H134.5V606.5H143.6" fill="none" stroke="#111" stroke-width="2.9"/>
<text transform="translate(249.06,649.9) scale(0.8291,1)" font-size="29" font-weight="bold" font-family='"Liberation Sans", sans-serif'><tspan>1</tspan></text>
<text transform="translate(285.89,649.9) scale(1.0486,1)" font-size="29" font-weight="bold" font-family='"Liberation Sans", sans-serif'><tspan>2</tspan></text>
<text transform="translate(332.13,649.9) scale(0.9793,1)" font-size="29" font-weight="bold" font-family='"Liberation Sans", sans-serif'><tspan>3</tspan></text>
<text transform="translate(369.72,649.9) scale(0.9579,1)" font-size="29" font-weight="bold" font-family='"Liberation Sans", sans-serif'><tspan>4</tspan></text>
<text transform="translate(410.37,649.9) scale(0.9517,1)" font-size="29" font-weight="bold" font-family='"Liberation Sans", sans-serif'><tspan>5</tspan></text>
<text transform="translate(447.25,649.9) scale(1.0776,1)" font-size="29" font-weight="bold" font-family='"Liberation Sans", sans-serif'><tspan>6</tspan></text>
<text transform="translate(488.49,649.9) scale(0.9611,1)" font-size="29" font-weight="bold" font-family='"Liberation Sans", sans-serif'><tspan>7</tspan></text>
<text transform="translate(526.85,649.9) scale(0.9793,1)" font-size="29" font-weight="bold" font-family='"Liberation Sans", sans-serif'><tspan>8</tspan></text>
<text transform="translate(618.81,649.6) scale(1.1400,1)" font-size="29" font-weight="bold" font-family='"Liberation Sans", sans-serif'><tspan>9</tspan></text>
<text transform="translate(652.26,649.6) scale(0.9973,1)" font-size="29" font-weight="bold" font-family='"Liberation Sans", sans-serif'><tspan>10</tspan></text>
<text transform="translate(696.28,649.6) scale(0.8710,1)" font-size="29" font-weight="bold" font-family='"Liberation Sans", sans-serif'><tspan>11</tspan></text>
<text transform="translate(731.26,649.6) scale(1.0007,1)" font-size="29" font-weight="bold" font-family='"Liberation Sans", sans-serif'><tspan>12</tspan></text>
<text transform="translate(765.55,649.6) scale(1.0074,1)" font-size="29" font-weight="bold" font-family='"Liberation Sans", sans-serif'><tspan>13</tspan></text>
<text transform="translate(806.21,649.6) scale(0.9688,1)" font-size="29" font-weight="bold" font-family='"Liberation Sans", sans-serif'><tspan>14</tspan></text>
<text transform="translate(848.32,649.6) scale(0.9642,1)" font-size="29" font-weight="bold" font-family='"Liberation Sans", sans-serif'><tspan>15</tspan></text>
<text transform="translate(889.6,649.6) scale(1.0345,1)" font-size="29" font-weight="bold" font-family='"Liberation Sans", sans-serif'><tspan>16</tspan></text>
<text transform="translate(2.61,779.7) scale(0.9389,1)" font-size="44" font-weight="bold" font-family='"Liberation Sans", sans-serif'><tspan>B</tspan></text>
<text transform="translate(172.92,791.4) scale(0.9525,1)" font-size="33.5" font-weight="bold" font-family='"Liberation Sans", sans-serif'><tspan>0.6</tspan></text>
<text transform="translate(172.93,874.8) scale(0.9453,1)" font-size="33.5" font-weight="bold" font-family='"Liberation Sans", sans-serif'><tspan>0.5</tspan></text>
<text transform="translate(172.95,958.2) scale(0.9312,1)" font-size="33.5" font-weight="bold" font-family='"Liberation Sans", sans-serif'><tspan>0.4</tspan></text>
<text transform="translate(172.92,1041.6) scale(0.9525,1)" font-size="33.5" font-weight="bold" font-family='"Liberation Sans", sans-serif'><tspan>0.3</tspan></text>
<text transform="translate(172.92,1125) scale(0.9525,1)" font-size="33.5" font-weight="bold" font-family='"Liberation Sans", sans-serif'><tspan>0.2</tspan></text>
<text transform="translate(172.93,1208.4) scale(0.9453,1)" font-size="33.5" font-weight="bold" font-family='"Liberation Sans", sans-serif'><tspan>0.1</tspan></text>
<text transform="translate(198.93,1293) scale(1.0261,1)" font-size="33.5" font-weight="bold" font-family='"Liberation Sans", sans-serif'><tspan>0</tspan></text>
<text transform="translate(162.49,1376) scale(0.9009,1)" font-size="33.5" font-weight="bold" font-family='"Liberation Sans", sans-serif'><tspan>-0.1</tspan></text>
<text transform="translate(296.31,1331.2) scale(0.9647,1)" font-size="33.5" font-weight="bold" font-family='"Liberation Sans", sans-serif'><tspan>0.5h</tspan></text>
<text transform="translate(393.62,1331.2) scale(0.9837,1)" font-size="33.5" font-weight="bold" font-family='"Liberation Sans", sans-serif'><tspan>1h</tspan></text>
<text transform="translate(478.04,1331.2) scale(0.9536,1)" font-size="33.5" font-weight="bold" font-family='"Liberation Sans", sans-serif'><tspan>2h</tspan></text>
<text transform="translate(561.57,1331.2) scale(0.9851,1)" font-size="33.5" font-weight="bold" font-family='"Liberation Sans", sans-serif'><tspan>4h</tspan></text>
<text transform="translate(645.72,1331.2) scale(0.9757,1)" font-size="33.5" font-weight="bold" font-family='"Liberation Sans", sans-serif'><tspan>8h</tspan></text>
<text transform="translate(721.38,1331.2) scale(0.9552,1)" font-size="33.5" font-weight="bold" font-family='"Liberation Sans", sans-serif'><tspan>12h</tspan></text>
<text transform="translate(803.91,1331.2) scale(0.9853,1)" font-size="33.5" font-weight="bold" font-family='"Liberation Sans", sans-serif'><tspan>24h</tspan></text>
<text transform="translate(147.8,1273.62) rotate(-90) scale(0.9965,1)" x="0" y="0" font-size="39" font-weight="bold" font-family='"Liberation Sans", sans-serif'>p-eIF2&#945;/total eIF2&#945; ratio</text>
<rect x="245.5" y="782.4" width="670.7" height="584.1" fill="none" stroke="#000" stroke-width="3.5"/>
<line x1="245.5" y1="866" x2="255" y2="866" stroke="#000" stroke-width="3.2"/>
<line x1="245.5" y1="949.4" x2="255" y2="949.4" stroke="#000" stroke-width="3.2"/>
<line x1="245.5" y1="1032.8" x2="255" y2="1032.8" stroke="#000" stroke-width="3.2"/>
<line x1="245.5" y1="1116.2" x2="255" y2="1116.2" stroke="#000" stroke-width="3.2"/>
<line x1="245.5" y1="1199.6" x2="255" y2="1199.6" stroke="#000" stroke-width="3.2"/>
<line x1="329.43" y1="1249.64" x2="329.43" y2="1149.56" stroke="#5272C4" stroke-width="4"/>
<line x1="324.83" y1="1249.64" x2="334.03" y2="1249.64" stroke="#5272C4" stroke-width="3.5"/>
<line x1="324.83" y1="1149.56" x2="334.03" y2="1149.56" stroke="#5272C4" stroke-width="3.5"/>
<line x1="413.26" y1="1049.48" x2="413.26" y2="966.08" stroke="#5272C4" stroke-width="4"/>
<line x1="408.66" y1="1049.48" x2="417.86" y2="1049.48" stroke="#5272C4" stroke-width="3.5"/>
<line x1="408.66" y1="966.08" x2="417.86" y2="966.08" stroke="#5272C4" stroke-width="3.5"/>
<line x1="497.09" y1="982.76" x2="497.09" y2="916.04" stroke="#5272C4" stroke-width="4"/>
<line x1="492.49" y1="982.76" x2="501.69" y2="982.76" stroke="#5272C4" stroke-width="3.5"/>
<line x1="492.49" y1="916.04" x2="501.69" y2="916.04" stroke="#5272C4" stroke-width="3.5"/>
<line x1="580.92" y1="924.38" x2="580.92" y2="874.34" stroke="#5272C4" stroke-width="4"/>
<line x1="576.32" y1="924.38" x2="585.52" y2="924.38" stroke="#5272C4" stroke-width="3.5"/>
<line x1="576.32" y1="874.34" x2="585.52" y2="874.34" stroke="#5272C4" stroke-width="3.5"/>
<line x1="664.75" y1="1007.78" x2="664.75" y2="891.02" stroke="#5272C4" stroke-width="4"/>
<line x1="660.15" y1="1007.78" x2="669.35" y2="1007.78" stroke="#5272C4" stroke-width="3.5"/>
<line x1="660.15" y1="891.02" x2="669.35" y2="891.02" stroke="#5272C4" stroke-width="3.5"/>
<line x1="748.58" y1="1232.96" x2="748.58" y2="1166.24" stroke="#5272C4" stroke-width="4"/>
<line x1="743.98" y1="1232.96" x2="753.18" y2="1232.96" stroke="#5272C4" stroke-width="3.5"/>
<line x1="743.98" y1="1166.24" x2="753.18" y2="1166.24" stroke="#5272C4" stroke-width="3.5"/>
<line x1="832.41" y1="1185.42" x2="832.41" y2="1128.71" stroke="#5272C4" stroke-width="4"/>
<line x1="827.81" y1="1185.42" x2="837.01" y2="1185.42" stroke="#5272C4" stroke-width="3.5"/>
<line x1="827.81" y1="1128.71" x2="837.01" y2="1128.71" stroke="#5272C4" stroke-width="3.5"/>
<line x1="329.43" y1="1216.28" x2="329.43" y2="1134.55" stroke="#5272C4" stroke-width="4" stroke-dasharray="3.6 4.3"/>
<line x1="324.83" y1="1216.28" x2="334.03" y2="1216.28" stroke="#5272C4" stroke-width="3.5" stroke-dasharray="3 2"/>
<line x1="324.83" y1="1134.55" x2="334.03" y2="1134.55" stroke="#5272C4" stroke-width="3.5" stroke-dasharray="3 2"/>
<line x1="413.26" y1="1099.52" x2="413.26" y2="1041.14" stroke="#5272C4" stroke-width="4" stroke-dasharray="3.6 4.3"/>
<line x1="408.66" y1="1099.52" x2="417.86" y2="1099.52" stroke="#5272C4" stroke-width="3.5" stroke-dasharray="3 2"/>
<line x1="408.66" y1="1041.14" x2="417.86" y2="1041.14" stroke="#5272C4" stroke-width="3.5" stroke-dasharray="3 2"/>
<line x1="497.09" y1="1116.2" x2="497.09" y2="1007.78" stroke="#5272C4" stroke-width="4" stroke-dasharray="3.6 4.3"/>
<line x1="492.49" y1="1116.2" x2="501.69" y2="1116.2" stroke="#5272C4" stroke-width="3.5" stroke-dasharray="3 2"/>
<line x1="492.49" y1="1007.78" x2="501.69" y2="1007.78" stroke="#5272C4" stroke-width="3.5" stroke-dasharray="3 2"/>
<line x1="580.92" y1="1153.73" x2="580.92" y2="1096.18" stroke="#5272C4" stroke-width="4" stroke-dasharray="3.6 4.3"/>
<line x1="576.32" y1="1153.73" x2="585.52" y2="1153.73" stroke="#5272C4" stroke-width="3.5" stroke-dasharray="3 2"/>
<line x1="576.32" y1="1096.18" x2="585.52" y2="1096.18" stroke="#5272C4" stroke-width="3.5" stroke-dasharray="3 2"/>
<line x1="664.75" y1="1298.01" x2="664.75" y2="1266.32" stroke="#5272C4" stroke-width="4" stroke-dasharray="3.6 4.3"/>
<line x1="660.15" y1="1298.01" x2="669.35" y2="1298.01" stroke="#5272C4" stroke-width="3.5" stroke-dasharray="3 2"/>
<line x1="660.15" y1="1266.32" x2="669.35" y2="1266.32" stroke="#5272C4" stroke-width="3.5" stroke-dasharray="3 2"/>
<line x1="748.58" y1="1298.01" x2="748.58" y2="1274.66" stroke="#5272C4" stroke-width="4" stroke-dasharray="3.6 4.3"/>
<line x1="743.98" y1="1298.01" x2="753.18" y2="1298.01" stroke="#5272C4" stroke-width="3.5" stroke-dasharray="3 2"/>
<line x1="743.98" y1="1274.66" x2="753.18" y2="1274.66" stroke="#5272C4" stroke-width="3.5" stroke-dasharray="3 2"/>
<line x1="832.41" y1="1301.35" x2="832.41" y2="1274.66" stroke="#5272C4" stroke-width="4" stroke-dasharray="3.6 4.3"/>
<line x1="827.81" y1="1301.35" x2="837.01" y2="1301.35" stroke="#5272C4" stroke-width="3.5" stroke-dasharray="3 2"/>
<line x1="827.81" y1="1274.66" x2="837.01" y2="1274.66" stroke="#5272C4" stroke-width="3.5" stroke-dasharray="3 2"/>
<line x1="329.43" y1="1023.63" x2="329.43" y2="991.1" stroke="#D6793A" stroke-width="4"/>
<line x1="324.83" y1="1023.63" x2="334.03" y2="1023.63" stroke="#D6793A" stroke-width="3.5"/>
<line x1="324.83" y1="991.1" x2="334.03" y2="991.1" stroke="#D6793A" stroke-width="3.5"/>
<line x1="413.26" y1="1016.12" x2="413.26" y2="966.08" stroke="#D6793A" stroke-width="4"/>
<line x1="408.66" y1="1016.12" x2="417.86" y2="1016.12" stroke="#D6793A" stroke-width="3.5"/>
<line x1="408.66" y1="966.08" x2="417.86" y2="966.08" stroke="#D6793A" stroke-width="3.5"/>
<line x1="497.09" y1="1007.78" x2="497.09" y2="923.55" stroke="#D6793A" stroke-width="4"/>
<line x1="492.49" y1="1007.78" x2="501.69" y2="1007.78" stroke="#D6793A" stroke-width="3.5"/>
<line x1="492.49" y1="923.55" x2="501.69" y2="923.55" stroke="#D6793A" stroke-width="3.5"/>
<line x1="580.92" y1="911.87" x2="580.92" y2="836.81" stroke="#D6793A" stroke-width="4"/>
<line x1="576.32" y1="911.87" x2="585.52" y2="911.87" stroke="#D6793A" stroke-width="3.5"/>
<line x1="576.32" y1="836.81" x2="585.52" y2="836.81" stroke="#D6793A" stroke-width="3.5"/>
<line x1="664.75" y1="971.92" x2="664.75" y2="909.37" stroke="#D6793A" stroke-width="4"/>
<line x1="660.15" y1="971.92" x2="669.35" y2="971.92" stroke="#D6793A" stroke-width="3.5"/>
<line x1="660.15" y1="909.37" x2="669.35" y2="909.37" stroke="#D6793A" stroke-width="3.5"/>
<line x1="748.58" y1="988.6" x2="748.58" y2="942.73" stroke="#D6793A" stroke-width="4"/>
<line x1="743.98" y1="988.6" x2="753.18" y2="988.6" stroke="#D6793A" stroke-width="3.5"/>
<line x1="743.98" y1="942.73" x2="753.18" y2="942.73" stroke="#D6793A" stroke-width="3.5"/>
<line x1="832.41" y1="1000.27" x2="832.41" y2="948.57" stroke="#D6793A" stroke-width="4"/>
<line x1="827.81" y1="1000.27" x2="837.01" y2="1000.27" stroke="#D6793A" stroke-width="3.5"/>
<line x1="827.81" y1="948.57" x2="837.01" y2="948.57" stroke="#D6793A" stroke-width="3.5"/>
<line x1="329.43" y1="1098.69" x2="329.43" y2="1048.65" stroke="#D6793A" stroke-width="4" stroke-dasharray="3.6 4.3"/>
<line x1="324.83" y1="1098.69" x2="334.03" y2="1098.69" stroke="#D6793A" stroke-width="3.5" stroke-dasharray="3 2"/>
<line x1="324.83" y1="1048.65" x2="334.03" y2="1048.65" stroke="#D6793A" stroke-width="3.5" stroke-dasharray="3 2"/>
<line x1="580.92" y1="1116.2" x2="580.92" y2="1066.16" stroke="#D6793A" stroke-width="4" stroke-dasharray="3.6 4.3"/>
<line x1="576.32" y1="1116.2" x2="585.52" y2="1116.2" stroke="#D6793A" stroke-width="3.5" stroke-dasharray="3 2"/>
<line x1="576.32" y1="1066.16" x2="585.52" y2="1066.16" stroke="#D6793A" stroke-width="3.5" stroke-dasharray="3 2"/>
<line x1="664.75" y1="1249.64" x2="664.75" y2="1148.73" stroke="#D6793A" stroke-width="4" stroke-dasharray="3.6 4.3"/>
<line x1="660.15" y1="1249.64" x2="669.35" y2="1249.64" stroke="#D6793A" stroke-width="3.5" stroke-dasharray="3 2"/>
<line x1="660.15" y1="1148.73" x2="669.35" y2="1148.73" stroke="#D6793A" stroke-width="3.5" stroke-dasharray="3 2"/>
<line x1="245.5" y1="1283" x2="916.2" y2="1283" stroke="#000" stroke-width="3.5"/>
<line x1="329.43" y1="1273.5" x2="329.43" y2="1283" stroke="#000" stroke-width="3.2"/>
<line x1="413.26" y1="1273.5" x2="413.26" y2="1283" stroke="#000" stroke-width="3.2"/>
<line x1="497.09" y1="1273.5" x2="497.09" y2="1283" stroke="#000" stroke-width="3.2"/>
<line x1="580.92" y1="1273.5" x2="580.92" y2="1283" stroke="#000" stroke-width="3.2"/>
<line x1="664.75" y1="1273.5" x2="664.75" y2="1283" stroke="#000" stroke-width="3.2"/>
<line x1="748.58" y1="1273.5" x2="748.58" y2="1283" stroke="#000" stroke-width="3.2"/>
<line x1="832.41" y1="1273.5" x2="832.41" y2="1283" stroke="#000" stroke-width="3.2"/>
<polyline points="245.6,1274.66 329.43,1199.6 413.26,1007.78 497.09,949.4 580.92,899.36 664.75,949.4 748.58,1199.6 832.41,1157.9" fill="none" stroke="#5272C4" stroke-width="4.5" stroke-linejoin="round" stroke-linecap="round"/>
<circle cx="245.6" cy="1274.66" r="5.7" fill="#5272C4"/>
<circle cx="329.43" cy="1199.6" r="5.7" fill="#5272C4"/>
<circle cx="413.26" cy="1007.78" r="5.7" fill="#5272C4"/>
<circle cx="497.09" cy="949.4" r="5.7" fill="#5272C4"/>
<circle cx="580.92" cy="899.36" r="5.7" fill="#5272C4"/>
<circle cx="664.75" cy="949.4" r="5.7" fill="#5272C4"/>
<circle cx="748.58" cy="1199.6" r="5.7" fill="#5272C4"/>
<circle cx="832.41" cy="1157.9" r="5.7" fill="#5272C4"/>
<polyline points="245.6,1274.66 329.43,1199.6 413.26,1074.5 497.09,1074.5 580.92,1116.2 664.75,1266.32 748.58,1274.66 832.41,1274.66" fill="none" stroke="#5272C4" stroke-width="4.5" stroke-linejoin="round" stroke-dasharray="8.8 9.1" stroke-linecap="round"/>
<circle cx="245.6" cy="1274.66" r="5.7" fill="#5272C4"/>
<circle cx="329.43" cy="1199.6" r="5.7" fill="#5272C4"/>
<circle cx="413.26" cy="1074.5" r="5.7" fill="#5272C4"/>
<circle cx="497.09" cy="1074.5" r="5.7" fill="#5272C4"/>
<circle cx="580.92" cy="1116.2" r="5.7" fill="#5272C4"/>
<circle cx="664.75" cy="1266.32" r="5.7" fill="#5272C4"/>
<circle cx="748.58" cy="1274.66" r="5.7" fill="#5272C4"/>
<circle cx="832.41" cy="1274.66" r="5.7" fill="#5272C4"/>
<polyline points="245.6,1241.3 329.43,1007.78 413.26,991.1 497.09,966.08 580.92,874.34 664.75,941.06 748.58,966.08 832.41,974.42" fill="none" stroke="#D6793A" stroke-width="4.5" stroke-linejoin="round" stroke-linecap="round"/>
<circle cx="245.6" cy="1241.3" r="5.7" fill="#D6793A"/>
<circle cx="329.43" cy="1007.78" r="5.7" fill="#D6793A"/>
<circle cx="413.26" cy="991.1" r="5.7" fill="#D6793A"/>
<circle cx="497.09" cy="966.08" r="5.7" fill="#D6793A"/>
<circle cx="580.92" cy="874.34" r="5.7" fill="#D6793A"/>
<circle cx="664.75" cy="941.06" r="5.7" fill="#D6793A"/>
<circle cx="748.58" cy="966.08" r="5.7" fill="#D6793A"/>
<circle cx="832.41" cy="974.42" r="5.7" fill="#D6793A"/>
<polyline points="245.6,1249.64 329.43,1074.5 413.26,1024.46 497.09,1041.14 580.92,1091.18 664.75,1199.6 748.58,1199.6 832.41,1191.26" fill="none" stroke="#D6793A" stroke-width="4.5" stroke-linejoin="round" stroke-dasharray="8.8 9.1" stroke-linecap="round"/>
<circle cx="245.6" cy="1249.64" r="5.7" fill="#D6793A"/>
<circle cx="329.43" cy="1074.5" r="5.7" fill="#D6793A"/>
<circle cx="413.26" cy="1024.46" r="5.7" fill="#D6793A"/>
<circle cx="497.09" cy="1041.14" r="5.7" fill="#D6793A"/>
<circle cx="580.92" cy="1091.18" r="5.7" fill="#D6793A"/>
<circle cx="664.75" cy="1199.6" r="5.7" fill="#D6793A"/>
<circle cx="748.58" cy="1199.6" r="5.7" fill="#D6793A"/>
<circle cx="832.41" cy="1191.26" r="5.7" fill="#D6793A"/>
<line x1="146" y1="1422.7" x2="196.5" y2="1422.7" stroke="#5272C4" stroke-width="4.2" stroke-linecap="round"/>
<circle cx="169.9" cy="1422.7" r="5.8" fill="#5272C4"/>
<line x1="296.1" y1="1422.7" x2="341.4" y2="1422.7" stroke="#5272C4" stroke-width="4.2" stroke-dasharray="9 9.1" stroke-linecap="round"/>
<circle cx="320.7" cy="1422.7" r="5.8" fill="#5272C4"/>
<line x1="505.5" y1="1422.7" x2="554.5" y2="1422.7" stroke="#D6793A" stroke-width="4.2" stroke-linecap="round"/>
<circle cx="529.5" cy="1422.7" r="5.8" fill="#D6793A"/>
<line x1="674.7" y1="1422.7" x2="720" y2="1422.7" stroke="#D6793A" stroke-width="4.2" stroke-dasharray="9 9.1" stroke-linecap="round"/>
<circle cx="699.3" cy="1422.7" r="5.8" fill="#D6793A"/>
<text transform="translate(203.6,1431) scale(0.9147,1)" font-size="32.3" font-weight="bold" font-family='"Liberation Sans", sans-serif'><tspan>wt</tspan></text>
<text transform="translate(353.2,1431) scale(0.9833,1)" font-size="32.3" font-weight="bold" font-family='"Liberation Sans", sans-serif'><tspan>wt +lut</tspan></text>
<text transform="translate(560.27,1431) scale(0.9852,1)" font-size="32.3" font-weight="bold" font-family='"Liberation Sans", sans-serif'><tspan>DYT</tspan></text>
<text transform="translate(731.06,1431) scale(0.9896,1)" font-size="32.3" font-weight="bold" font-family='"Liberation Sans", sans-serif'><tspan>DYT +Lut</tspan></text>
</svg>
</body></html>
